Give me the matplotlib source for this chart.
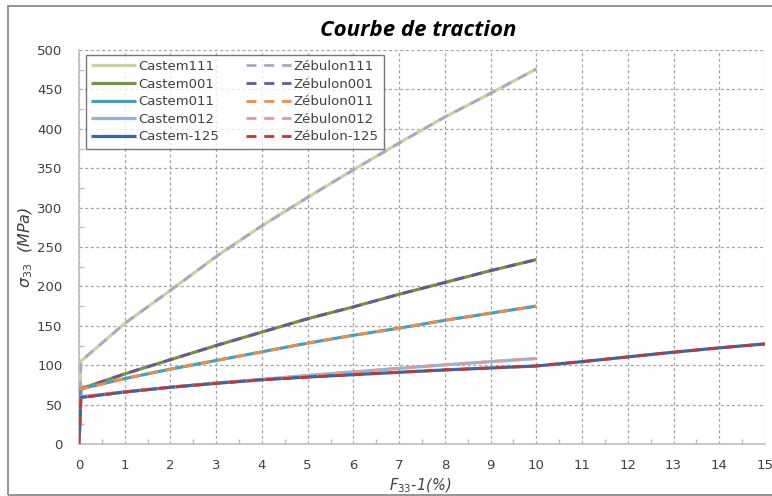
import matplotlib
matplotlib.use("Agg")
import matplotlib.pyplot as plt
from matplotlib.patches import Rectangle
from matplotlib.ticker import MultipleLocator

# ---- data ----
x10 = [0, 0.04, 1, 2, 3, 4, 5, 6, 7, 8, 9, 10]
x15 = [0, 0.04, 1, 2, 3, 4, 5, 6, 7, 8, 9, 10, 11, 12, 13, 14, 15]

s111 = [0, 105, 153, 195, 238, 277, 313, 348, 382, 415, 445, 476]
s001 = [0, 70, 89, 107, 125, 142, 159, 174, 190, 205, 220, 234]
s011 = [0, 70, 83, 95, 106, 117, 128, 138, 147, 157, 166, 175]
s012 = [0, 60, 66, 72, 77.5, 82, 87, 91.5, 96, 100.5, 104.5, 108.5]
s125 = [0, 59, 66, 72, 77, 81.5, 85, 88, 91, 94, 96.5, 99,
        104.5, 110.5, 116.5, 122, 127]

castem_labels = ["Castem111", "Castem001", "Castem011", "Castem012", "Castem-125"]
zebulon_labels = ["Zébulon111", "Zébulon001", "Zébulon011", "Zébulon012", "Zébulon-125"]
series_x = [x10, x10, x10, x10, x15]
series_y = [s111, s001, s011, s012, s125]

castem_colors = ["#c3d69b", "#77933c", "#3aa5c2", "#95b3d7", "#3c64a8"]
zebulon_colors = ["#b3a2c7", "#7052a0", "#f38b3a", "#de9a98", "#b83a3a"]

title = "Courbe de traction"
xlabel = r"$F_{33}$-1(%)"
ylabel = r"$\sigma_{\mathrm{33}}$  (MPa)"

# ---- figure ----
W, H = 772, 496
fig = plt.figure(figsize=(W / 100, H / 100), dpi=100)
fig.patch.set_facecolor("white")

# chart-area frame
fig.add_artist(Rectangle((8 / W, 1 - 495 / H), (W + 10 - 8) / W, (495 - 6) / H,
                         transform=fig.transFigure, fill=False,
                         edgecolor="#8c8c8c", linewidth=1.3))

ax = fig.add_axes([79 / W, 1 - 444 / H, (765 - 79) / W, (444 - 50) / H])

handles_c, handles_z = [], []
for xs, ys, lc, ll in zip(series_x, series_y, castem_colors, castem_labels):
    h, = ax.plot(xs, ys, color=lc, lw=2.3, solid_capstyle="butt", label=ll, zorder=3)
    handles_c.append(h)
for xs, ys, lc, ll in zip(series_x, series_y, zebulon_colors, zebulon_labels):
    h, = ax.plot(xs, ys, color=lc, lw=2.0, linestyle=(0, (3.6, 2.8)),
                 dash_capstyle="butt", label=ll, zorder=4)
    handles_z.append(h)

ax.set_xlim(0, 15)
ax.set_ylim(0, 500)
ax.xaxis.set_major_locator(MultipleLocator(1))
ax.yaxis.set_major_locator(MultipleLocator(50))
ax.xaxis.set_minor_locator(MultipleLocator(0.5))
ax.yaxis.set_minor_locator(MultipleLocator(25))

ax.grid(True, which="major", color="#a6a6a6", linestyle=(0, (2.5, 2)), linewidth=0.9, zorder=1)
ax.set_axisbelow(True)

for sp in ["top", "right"]:
    ax.spines[sp].set_visible(False)
for sp in ["left", "bottom"]:
    ax.spines[sp].set_color("#bfbfbf")
    ax.spines[sp].set_linewidth(1.2)

ax.tick_params(which="major", length=0, labelsize=9.5, labelcolor="#404040")
ax.tick_params(axis="y", which="major", pad=12)
ax.tick_params(axis="x", which="major", pad=11)
ax.tick_params(which="minor", direction="in", length=3.5, color="#bfbfbf", width=1)

fs = 9.5
ax.set_title(title, fontsize=16, fontweight="bold", fontstyle="italic",
             family="Open Sans", color="black", pad=10, x=0.494)
ax.set_xlabel(xlabel, fontsize=10.5, fontstyle="italic", color="#404040")
ax.set_ylabel(ylabel, fontsize=11.5, fontstyle="italic", color="#404040")
ax.xaxis.set_label_coords(0.497, -0.083)
ax.yaxis.set_label_coords(-0.064, 0.5)

leg = ax.legend(handles_c + handles_z, castem_labels + zebulon_labels,
                ncol=2, loc="upper left", bbox_to_anchor=(0.01, 0.988),
                borderaxespad=0, fontsize=fs, frameon=True, fancybox=False,
                handlelength=3.4, handletextpad=0.2, columnspacing=2.0,
                labelspacing=0.35, borderpad=0.4)
leg.get_frame().set_edgecolor("#555555")
leg.get_frame().set_linewidth(1.0)
for t in leg.get_texts():
    t.set_color("#404040")

fig.savefig("out.png", dpi=100, facecolor="white")
